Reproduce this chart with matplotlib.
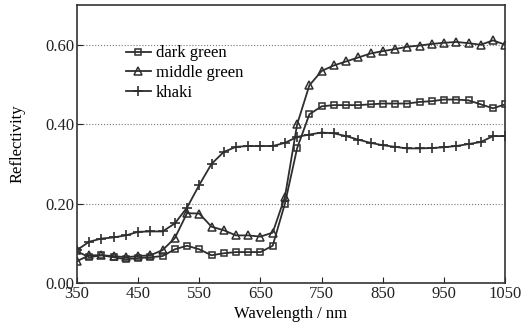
import numpy as np
import matplotlib
matplotlib.use('Agg')
import matplotlib.pyplot as plt

plt.rcParams['font.family'] = ['Liberation Serif', 'DejaVu Serif']

#wavelengths, one marker every 20 nm
wl = np.arange(350, 1051, 20)

dark_green = [0.080, 0.065, 0.070, 0.065, 0.060, 0.063, 0.065, 0.068, 0.085, 0.094,
              0.085, 0.070, 0.075, 0.078, 0.078, 0.078, 0.094, 0.200, 0.340, 0.425,
              0.445, 0.448, 0.448, 0.448, 0.450, 0.452, 0.452, 0.452, 0.456, 0.458,
              0.462, 0.462, 0.460, 0.450, 0.440, 0.450]
middle_green = [0.055, 0.070, 0.070, 0.068, 0.065, 0.068, 0.070, 0.083, 0.113, 0.176,
                0.175, 0.142, 0.133, 0.120, 0.120, 0.117, 0.127, 0.217, 0.400, 0.498,
                0.534, 0.548, 0.558, 0.568, 0.578, 0.584, 0.589, 0.595, 0.598, 0.602,
                0.605, 0.607, 0.604, 0.600, 0.611, 0.600]
khaki = [0.083, 0.104, 0.112, 0.115, 0.120, 0.129, 0.130, 0.130, 0.150, 0.190,
         0.247, 0.300, 0.330, 0.343, 0.345, 0.345, 0.345, 0.353, 0.368, 0.374,
         0.379, 0.377, 0.370, 0.361, 0.353, 0.347, 0.343, 0.339, 0.339, 0.340,
         0.342, 0.345, 0.350, 0.355, 0.370, 0.370]

fig = plt.figure(figsize=(5.23, 3.35), dpi=100)
ax = fig.add_axes([0.147, 0.155, 0.819, 0.83])

c = '#2e2e2e'
ax.plot(wl, dark_green, color=c, lw=1.3, marker='s', ms=4.5, mfc='none', mec=c, mew=1.1, label='dark green')
ax.plot(wl, middle_green, color=c, lw=1.3, marker='^', ms=5.5, mfc='none', mec=c, mew=1.1, label='middle green')
ax.plot(wl, khaki, color=c, lw=1.3, marker='+', ms=6.5, mec=c, mew=1.2, label='khaki')

ax.set_xlim(350, 1050)
ax.set_ylim(0, 0.70)
ax.set_xticks(np.arange(350, 1051, 100))
ax.set_yticks([0.0, 0.2, 0.4, 0.6])
ax.set_yticklabels(['0.00', '0.20', '0.40', '0.60'])
ax.tick_params(direction='in', labelsize=12, colors='#222222', length=4, pad=2)
for s in ax.spines.values():
    s.set_color('#333333')
    s.set_linewidth(1.2)
ax.yaxis.grid(True, linestyle=':', color='#777777', lw=0.8)

ax.set_xlabel('Wavelength / nm', fontsize=12, labelpad=3)
ax.set_ylabel('Reflectivity', fontsize=12, labelpad=14)
ax.legend(loc='upper left', bbox_to_anchor=(0.095, 0.885), frameon=False, fontsize=12,
          handlelength=1.5, handletextpad=0.3, labelspacing=0.22, borderpad=0)

plt.savefig('out.png', dpi=100)
